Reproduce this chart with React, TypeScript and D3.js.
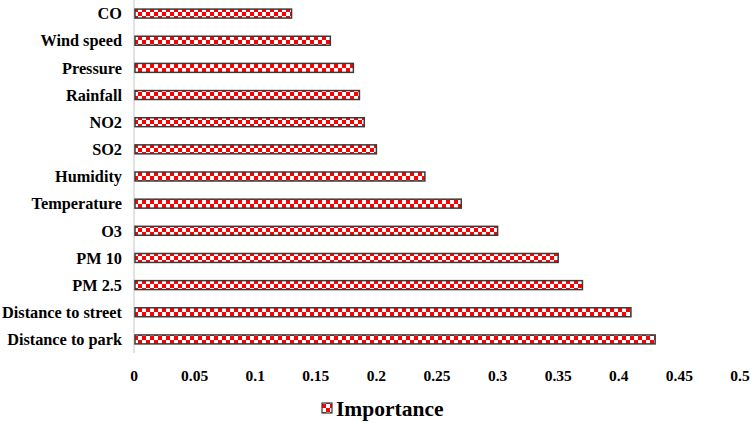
import React from "react";
import * as d3 from "d3";

const categories = [
  "CO",
  "Wind speed",
  "Pressure",
  "Rainfall",
  "NO2",
  "SO2",
  "Humidity",
  "Temperature",
  "O3",
  "PM 10",
  "PM 2.5",
  "Distance to street",
  "Distance to park",
];
const importance = [0.13, 0.162, 0.181, 0.186, 0.19, 0.2, 0.24, 0.27, 0.3, 0.35, 0.37, 0.41, 0.43];
const xTicks = [0, 0.05, 0.1, 0.15, 0.2, 0.25, 0.3, 0.35, 0.4, 0.45, 0.5];
const seriesName = "Importance";

const W = 751;
const H = 423;
const FONT = "\"Liberation Serif\", \"Times New Roman\", Times, \"DejaVu Serif\", serif";

export default function App() {
  const x = d3.scaleLinear().domain([0, 0.5]).range([134, 740]);
  const y = d3.scaleBand<string>().domain(categories).range([0, 353]).paddingInner(0.67).paddingOuter(0.335);
  const bh = y.bandwidth();
  const txt = { fontFamily: FONT, fontWeight: 700 as const };

  return (
    <svg width={W} height={H} style={{ position: "absolute", left: 0, top: 0, background: "#fff" }}>
      <defs>
        <pattern id="checker" width={8} height={8} patternUnits="userSpaceOnUse" x={134} y={0}>
          <rect width={8} height={8} fill="#ffffff" />
          <rect x={0} y={0} width={4} height={4} fill="#ff0000" />
          <rect x={4} y={4} width={4} height={4} fill="#ff0000" />
        </pattern>
      </defs>
      <rect width={W} height={H} fill="#fff" />
      <line x1={x(0)} x2={x(0)} y1={0} y2={353} stroke="#d9d9d9" strokeWidth={1.5} />
      {categories.map((c, i) => {
        const yy = y(c)!;
        return (
          <g key={c}>
            <rect
              x={x(0) + 1}
              y={yy}
              width={x(importance[i]) - x(0) - 1}
              height={bh}
              fill="url(#checker)"
              stroke="#3a3a3a"
              strokeWidth={1.5}
            />
            <text
              x={122}
              y={yy + bh / 2}
              dy="0.35em"
              textAnchor="end"
              style={{ ...txt, fontSize: 16.3 }}
              fill="#000"
            >
              {c}
            </text>
          </g>
        );
      })}
      {xTicks.map((t) => (
        <text
          key={t}
          x={x(t)}
          y={381}
          textAnchor="middle"
          style={{ ...txt, fontSize: 15.5 }}
          fill="#000"
        >
          {String(t)}
        </text>
      ))}
      <g>
        <rect x={322} y={403} width={10} height={10} fill="url(#checker)" stroke="#3a3a3a" strokeWidth={1.2} />
        <text x={336} y={416} style={{ ...txt, fontSize: 21.5 }} fill="#000">
          {seriesName}
        </text>
      </g>
    </svg>
  );
}
